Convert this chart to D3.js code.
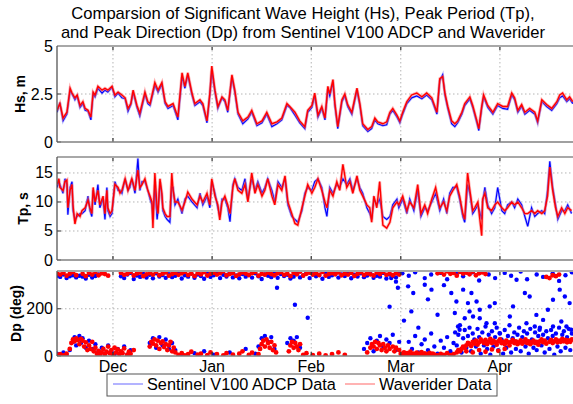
<!DOCTYPE html>
<html><head><meta charset="utf-8">
<script src="https://cdn.jsdelivr.net/npm/d3@7"></script>
<style>body{margin:0;background:#fff;overflow:hidden} text{font-family:"Liberation Sans",Arial,sans-serif;fill:#000}</style>
</head><body><svg id="c" width="573" height="404"></svg>
<script>
// ---------------- DATA ----------------
const titleLines = ["Comparsion of Significant Wave Height (Hs), Peak Period (Tp),",
                    "and Peak Direction (Dp) from Sentinel V100 ADCP and Waverider"];
const seriesNames = ["Sentinel V100 ADCP Data", "Waverider Data"];
const monthLabels = ["Dec","Jan","Feb","Mar","Apr"];
const monthStarts = ["2010-12-01","2011-01-01","2011-02-01","2011-03-01","2011-04-01"];
const hsTicks = [0, 2.5, 5];
const tpTicks = [0, 5, 10, 15];
const dpTicks = [0, 200];

// days since 2010-11-13 12:00
const hsDay = [0,0.9,1.9,3.1,4.1,4.7,5.6,6.3,7.2,8.1,8.8,9.7,10.6,11.3,11.9,12.8,14.1,15.0,15.9,17.2,18.1,19.1,20.3,21.3,22.2,23.1,23.8,25.0,25.9,27.5,28.4,29.1,30.6,31.6,32.8,33.8,34.7,36.3,37.8,39.1,40.0,40.9,42.2,43.1,44.7,45.6,46.9,47.8,48.4,49.4,50.3,51.6,52.5,53.4,54.7,55.6,56.6,58.1,59.7,60.9,62.5,64.1,65.6,67.2,68.8,70.3,71.9,72.8,74.4,75.9,77.5,78.4,79.7,80.6,81.6,82.8,83.8,84.7,85.3,86.3,86.9,87.8,89.1,90.0,90.9,92.2,93.8,94.7,95.6,97.2,98.4,99.4,100.3,101.9,103.1,104.1,105.0,106.3,107.2,108.1,109.4,110.9,112.5,114.1,115.6,117.2,118.8,119.7,120.6,121.3,122.2,123.4,124.4,125.3,126.6,127.5,129.1,130.0,131.3,131.9,132.8,133.4,134.7,136.3,137.8,139.4,140.9,142.2,143.1,144.1,145.3,146.3,147.8,149.4,150.3,151.6,153.1,154.7,156.3,157.2,158.1,159.4,160.3,161.3];
const hsWaverider = [1.66,2.0,1.25,1.55,2.8,2.55,2.3,2.45,1.9,2.1,1.75,1.65,1.3,2.6,2.45,2.9,2.7,2.8,2.7,2.9,2.45,2.6,2.45,2.3,1.75,2.0,2.7,1.9,1.5,2.6,2.1,2.0,3.1,2.7,3.1,2.1,1.85,2.0,1.3,3.6,2.9,3.6,2.55,2.0,2.2,2.0,1.1,2.55,3.95,2.7,1.85,2.35,2.2,1.65,3.5,2.7,1.55,1.1,1.3,1.65,0.95,1.1,1.55,0.95,1.05,1.25,2.0,1.85,1.55,1.1,0.8,1.65,1.9,2.55,1.4,1.85,1.25,2.9,2.5,3.25,2.0,0.8,2.2,2.5,1.95,1.55,2.8,2.0,0.95,0.65,0.8,1.25,1.05,0.95,1.05,1.55,1.75,1.4,1.1,1.55,2.1,2.45,2.55,2.35,2.55,2.3,1.55,3.3,3.4,2.55,1.85,1.1,0.95,1.1,1.55,2.0,2.35,1.9,1.1,0.7,1.85,2.45,1.9,1.55,2.0,1.85,1.85,2.55,2.3,1.65,1.95,1.55,1.75,1.55,1.1,2.2,1.95,1.75,2.1,2.45,2.55,2.2,2.35,2.1];
const hsAdcp = [1.55,2.05,1.1,1.45,2.7,2.5,2.2,2.4,1.8,2.0,1.65,1.6,1.15,2.5,2.35,2.8,2.55,2.7,2.6,2.85,2.35,2.55,2.3,2.25,1.6,1.95,2.6,1.8,1.35,2.5,2.0,1.9,2.95,2.6,3.0,2.0,1.75,1.9,1.15,3.4,2.8,3.5,2.45,1.9,2.1,1.9,1.0,2.45,3.7,2.6,1.75,2.3,2.1,1.55,3.35,2.6,1.45,0.95,1.2,1.55,0.85,1.0,1.45,0.8,0.95,1.15,1.9,1.8,1.4,1.0,0.7,1.55,1.8,2.4,1.3,1.75,1.15,2.75,2.4,3.1,1.9,0.7,2.1,2.4,1.85,1.45,2.7,1.9,0.85,0.55,0.7,1.15,0.95,0.85,0.9,1.45,1.65,1.3,1.0,1.45,2.0,2.3,2.4,2.25,2.45,2.2,1.45,3.2,3.5,2.45,1.75,0.95,0.8,1.0,1.45,1.9,2.25,1.8,1.0,0.6,1.75,2.35,1.8,1.45,1.9,1.75,1.7,2.45,2.2,1.55,1.85,1.45,1.65,1.45,1.0,2.1,1.85,1.65,2.0,2.3,2.4,2.1,2.25,2.0];

const tpDay = [0,0.6,0.9,1.9,2.5,3.1,3.4,4.1,4.7,5.0,5.6,6.3,7.2,7.8,8.8,9.7,10.3,10.9,11.3,11.9,12.8,13.4,14.4,15.0,15.6,15.9,16.6,17.2,18.1,19.1,19.7,20.3,21.3,22.2,22.8,23.4,24.4,25.3,25.9,26.6,27.5,28.4,29.1,29.7,30.0,30.6,31.3,31.6,32.2,32.8,33.1,33.8,34.4,35.3,35.9,36.3,36.9,37.8,39.1,40.0,40.9,42.2,43.8,44.7,45.6,46.9,47.8,48.4,49.4,50.3,50.9,51.6,52.5,53.4,54.1,55.0,55.6,56.6,57.8,58.8,59.7,60.9,61.9,62.8,64.1,65.0,65.9,67.2,68.1,69.1,70.3,71.3,72.2,73.4,74.4,75.3,76.6,77.5,78.4,79.7,80.6,81.6,82.8,83.8,84.4,85.3,86.3,87.5,88.4,89.4,90.6,91.6,92.5,93.8,94.7,95.6,96.9,97.8,98.4,99.1,100.0,100.9,101.9,103.1,104.1,105.0,106.3,106.9,108.1,109.4,110.3,111.6,112.8,113.8,115.0,115.9,117.2,118.4,119.7,120.9,121.9,122.8,123.8,125.0,125.9,126.9,127.5,128.4,129.1,130.0,130.6,131.6,132.8,133.1,133.8,134.7,135.9,136.9,137.8,139.1,140.0,140.9,142.2,143.1,144.1,145.3,146.3,147.2,148.4,149.4,150.3,151.6,152.5,153.4,154.1,155.0,155.9,156.6,157.8,158.8,159.7,160.9];
const tpWaverider = [13,14,12.5,12,13.5,13.8,9,12,13,9.5,6.2,8,7.5,8.5,9,10.3,9,8,12.5,10,12,9.5,11,8,12,9,8,8.5,13,12.5,11.5,12,14,12,13,14,12,15.5,12.5,13,14,12,11,10,5.5,15,9,8,14,11.5,9,8,7.5,7.5,15,12,10,10,8.6,10,11.7,10.5,9.5,11,10,11.5,9.5,14,11,9.5,6.9,10,11,9.5,8,12.5,14,12,11.5,13,10,15,11.5,13,11,12,14,11,9.5,13,12,14.5,10,8,6.3,6,9,11,13,11.5,12.5,14,12,10,9,12,11,13.5,12,16.5,12.5,13.5,11.5,14.5,12,11,9.5,9,6.5,11,9,13.5,6,5.5,6.5,9,10,9.5,11,8.5,10,9,13,8,9.5,8,10.5,12.5,9,10,8.5,11,12,13,11,8,7,15,12,8.5,9,10,4.2,10.5,11.5,9,8.5,9.5,10,9,8.5,9,10,9.5,10,9,8,8,8.5,8,8.5,8,8.5,11,16,12,9,7.5,9,8,9,8.5];
const tpAdcp = [12.5,13.5,13,11.5,14,13,7.8,12.5,13.5,8.5,7,7.5,8,8,8.5,11,8.5,7.5,12,9.5,13,9,10.5,7,12.5,8.5,7.5,8,13.5,12,12,11.5,14,12,12.5,14,11.5,17.5,12,13.5,13.5,12,10.5,9.5,7,13,7,8.5,13.5,11,8.5,7.5,7,6.5,12.5,12.5,9.5,10.5,8,10.5,11,10,9,11.5,9.5,11,9,13.5,11.5,9,7.5,10.5,10.5,9,6.6,13,14,12.5,12,14,10.5,14,12,13.5,11.5,12.5,14,12,10,13.5,12.5,14,9.5,7.5,7,6.5,8.5,11.5,12.5,12,13.5,14,12.5,9,7.5,12.5,11.5,13,12.5,14,13,14,12,14,12.5,11.5,9,8,7,10.5,9.5,10.5,7.5,7,7.5,9.5,10.5,9,10.5,8,10.5,8.5,12,7.5,9,8.5,10,11.5,8.5,10.5,8,11.5,12.5,12.5,10.5,7.5,6.5,13,11.5,8,8.5,9.5,7,10,12.5,9.5,8,9,12.5,8.5,8,9.5,10,9,10.5,9.5,7.5,5.8,9,7.5,8,8.5,8,12,17,12.5,9.5,7,8.5,8.5,9.5,8];

// Peak direction scatter (day, deg)
const dpWaveriderDay = [0,1,2,3,4,5,6, 8,9,10,11,12,13,14,15,16,
 20,21,22,23,24,25,26,27,28,29,30,31,32,33,34,35,36,37,38,39,40,41,42,43,44,45,46,47,48,49,50,51,52,53,54,55,56,57,58,59,60,61,62,63,64,65,66,67,68,69,70,71,72,73,74,75,76,77,78,79,80,81,82,83,84,85,86,87,88,89,90,91,92,93,94,95,96,97,98,99,100,101,102,103,104,105,106,107,
 119,120,121,122,123,124,125,126,127,128,129,130,131,132,133,134, 153,154,155,156,157,
 0,1,2,3, 4,4.5,5,5.5,6,6.5,7,7.5,8,8.5,9,9.5,10,10.5,11,11.5,12,
 12.5,13,13.5,14,14.5,15,15.5,16,16.5,17,17.5,18,18.5,19,19.5,20,20.5,21,22,22.5,23,24,
 29,29.5,30,30.5,31,31.5,32,32.5,33,33.5,34,34.5,35,35.5,36,36.5,37,
 38,39,40,41,42,44,45,47,48,50,52,53,55,57,58,60,61,63,
 63.5,64,64.5,65,65.5,66,66.5,67,67.5,68,68.5, 72.5,73,73.5,74,74.5,75,75.5,76,
 77,78,80,82,84,86,88,90,
 97,98,98.5,99,99.5,100,100.5,101,101.5,102,102.5,103,103.5,104,105,105.5,106,107,
 107.5,108,108.5,109,109.5,110,110.5,111,111.5,112,112.5,113,113.5,114,114.5,115,115.5,116,116.5,117,117.5,118,119,120,121,122,123,
 124,125,125.5,126,
 126.5,127,127.5,128,128.5,129,129.5,130,130.5,131,131.5,132,132.5,133,133.5,134,134.5,135,135.5,136,136.5,137,137.5,138,138.5,139,139.5,140,140.5,141,141.5,142,142.5,143,143.5,144,144.5,145,145.5,146,146.5,147,147.5,148,148.5,149,149.5,150,150.5,151,151.5,152,152.5,153,154,154.5,155,155.5,156,156.5,157,157.5,158,158.5,159,159.5,160,160.5,161,
 128,130,132,134,136,138,140];
const dpWaverider = [350,345,352,340,348,355,342, 348,338,352,345,356,342,350,347,340,
 352,344,348,356,341,349,353,338,346,351,345,357,342,348,354,340,347,352,344,350,
 356,343,349,338,351,346,355,341,348,353,345,350,358,342,347,352,339,346,354,349,
 343,351,356,340,348,345,353,347,342,350,355,344,349,338,352,346,357,341,348,353,
 345,350,343,356,340,347,351,346,354,342,349,345,352,339,348,355,343,350,346,341,
 353,347,356,344,349,342,351,345,
 350,355,345,358,348,352,340,356,349,353,346,357,342,350,354,347, 335,330,342,338,345,
 5,8,3,10, 30,55,70,62,75,68,50,72,65,40,58,25,45,30,60,20,35,
 10,22,5,15,30,8,18,40,12,25,5,35,15,28,8,20,12,32,6,18,10,25,
 40,60,52,70,45,65,30,55,62,38,50,25,45,60,20,35,15,
 5,12,3,8,18,6,10,4,15,8,3,12,6,10,20,5,14,8,
 30,50,65,40,70,55,35,60,25,45,15, 20,45,60,35,55,40,25,50,
 5,12,4,10,3,8,15,5,
 15,35,50,40,60,30,55,45,25,50,35,20,45,30,40,20,35,25,
 10,5,15,3,12,8,18,4,10,6,14,3,9,16,5,11,3,8,13,4,10,6,3,9,5,12,4,
 8,15,25,20,
 30,40,35,45,55,50,42,60,52,65,48,58,70,62,55,68,50,60,72,55,65,58,48,62,70,55,60,50,65,58,45,60,68,55,62,50,58,66,52,60,70,55,62,50,58,65,55,60,48,62,70,58,65,52,60,68,55,62,70,58,65,60,72,62,68,58,66,60,70,
 20,15,25,18,28,22,30];

const dpAdcpDay = [0,1,2,3,4,5,6,7,8,9,10,11,12,13,
 20,21,22,23,24,25,26,27,28,29,30,31,32,33,34,35,36,37,38,39,40,41,42,43,44,45,46,47,48,49,50,51,52,53,54,55,56,57,58,59,60,61,62,63,64,65,66,67,68,69,70,71,72,73,74,75,76,77,78,79,80,81,82,83,84,85,86,87,88,89,90,91,92,93,94,95,96,97,98,99,100,101,102,103,104,105,106,107,
 108,110,112,115,117,120,122,125,127,130,132,135,137,140,142,145,147,150,152,155,157,159,161,
 68.8,74.4,78.4,104,106.6,
 109.8,111.4,115,117.1,123.3,124.9,127,128.5,129.6,131.2,132.2,110.8,125.4,129,130.1,132.2,134.3,136.9,138.4,141.6,142.6,143.7,146.3,147.8,149.9,152,153.5,155.1,157.2,158.8,160.3,146.8,149.4,150.9,155.1,157.7,159.3,160.8,135.3,136.9,127.5,125.9,124.4,108.5,113,116,119,121,106,104.5,
 110,111,112,113,114,115,116,117,118,119,120,121,122,123,124,124.5,125,
 125.5,126,126.5,127,127.5,128,128.5,129,129.5,130,130.5,131,131.5,132,132.5,133,133.5,134,134.5,135,135.5,136,136.5,137,137.5,138,138.5,139,139.5,140,140.5,141,141.5,142,142.5,143,143.5,144,144.5,145,145.5,146,146.5,147,147.5,148,148.5,149,149.5,150,150.5,151,151.5,152,152.5,153,153.5,154,154.5,155,155.5,156,156.5,157,157.5,158,158.5,159,159.5,160,160.5,161,
 0,1,2,3,4,5,5.5,6,6.5,7,7.5,8,9,10,11,12,13,14,15,16,17,18,19,20,21,22,23,
 29,30,31,32,33,34,35,36,37, 39,43,46,49,54,59,62, 63,64,65,66,67,68, 72,73,74,75,76,
 96,97,98,99,100,101,102,103,104,105,106,107];
const dpAdcp = [340,335,345,330,338,342,333,340,336,328,344,332,339,345,
 338,330,345,352,326,341,335,348,332,344,329,350,337,343,331,346,334,340,354,328,
 342,336,349,331,345,339,327,351,335,342,348,330,344,337,353,333,341,329,347,336,
 343,332,350,338,326,345,340,334,352,331,347,339,344,328,336,349,333,341,355,330,
 346,338,343,327,351,335,342,348,332,345,339,353,329,344,337,350,334,341,347,331,
 340,336,352,328,345,339,333,348,
 350,340,355,330,345,352,325,348,338,355,320,345,330,352,340,358,325,345,335,350,318,342,355,
 289,217,162,209,289,
 295,267,302,281,267,231,281,224,267,231,196,189,125,189,167,160,139,139,97,167,210,323,267,252,174,153,196,238,281,252,224,139,125,111,125,146,125,111,210,224,160,111,182,150,120,240,175,300,315,330,
 60,30,85,15,50,70,25,95,40,10,65,35,80,20,55,100,45,
 90,130,15,75,110,35,85,120,20,95,70,40,115,80,10,100,45,125,30,90,5,105,40,80,120,25,95,70,10,110,35,85,130,15,75,100,30,90,120,20,80,105,40,95,10,115,70,35,100,25,85,120,45,90,15,105,75,30,110,85,5,95,40,120,20,90,105,35,80,115,25,95,
 10,5,15,3,25,60,80,45,70,85,55,75,35,65,30,50,20,35,10,45,20,8,30,15,40,5,25,
 55,75,35,80,45,70,30,55,25, 8,12,20,5,15,30,10, 40,75,85,60,80,30, 55,75,65,80,35,
 30,55,75,20,65,85,40,70,55,90,25,60];

// ---------------- CHART ----------------
const svg = d3.select("#c");
const t0 = new Date(2010, 10, 13, 12).getTime();
const toDate = d => new Date(t0 + d * 864e5);
const x = d3.scaleTime()
  .domain([toDate(0), new Date(2011, 3, 24, 19)])
  .range([57, 576]);
const monthDates = monthStarts.map(s => { const p = s.split("-"); return new Date(+p[0], +p[1]-1, +p[2]); });

const BLUE = "#0000ff", RED = "#ff0000";
const panels = [
  {y: d3.scaleLinear().domain([0,5]).range([142,46]), ticks: hsTicks, label: "Hs, m", lx: 25, fmt: d => d===2.5?"2.5":String(d)},
  {y: d3.scaleLinear().domain([0,17.75]).range([260,157]), ticks: tpTicks, label: "Tp, s", lx: 28, fmt: String},
  {y: d3.scaleLinear().domain([0,360]).range([356,271]), ticks: dpTicks, label: "Dp (deg)", lx: 21, fmt: String}
];

panels.forEach((p, i) => {
  const [yb, yt] = p.y.range();
  const g = svg.append("g");
  const cid = "clip" + i;
  svg.append("clipPath").attr("id", cid).append("rect")
    .attr("x", 57).attr("y", yt).attr("width", 519).attr("height", yb - yt);
  g.selectAll(".hg").data(p.ticks.filter(v => v > p.y.domain()[0] && v < p.y.domain()[1])).join("line")
    .attr("x1", 57).attr("x2", 576).attr("y1", d => p.y(d)).attr("y2", d => p.y(d))
    .attr("stroke", "#b4b4b4").attr("stroke-width", 1).attr("stroke-dasharray", "1.5,2.5");
  g.selectAll(".vg").data(monthDates).join("line")
    .attr("x1", d => x(d)).attr("x2", d => x(d)).attr("y1", yt).attr("y2", yb)
    .attr("stroke", "#b4b4b4").attr("stroke-width", 1).attr("stroke-dasharray", "1.5,2.5");
  const data = g.append("g").attr("clip-path", `url(#${cid})`);
  if (i < 2) {
    const days = i === 0 ? hsDay : tpDay;
    const a = i === 0 ? hsAdcp : tpAdcp;
    const w = i === 0 ? hsWaverider : tpWaverider;
    const line = d3.line().x(d => x(toDate(d[0]))).y(d => p.y(d[1]));
    const aPts = days.map((d, k) => [d, a[k]]);
    const wPts = days.map((d, k) => [d, w[k]]);
    data.append("path").attr("d", line(aPts)).attr("fill", "none").attr("stroke", "#7070ff").attr("stroke-width", 2.6).attr("opacity", 0.45);
    data.append("path").attr("d", line(aPts)).attr("fill", "none").attr("stroke", BLUE).attr("stroke-width", 1.2);
    data.append("path").attr("d", line(wPts)).attr("fill", "none").attr("stroke", "#ff7070").attr("stroke-width", 3).attr("opacity", 0.5);
    data.append("path").attr("d", line(wPts)).attr("fill", "none").attr("stroke", RED).attr("stroke-width", 1.4);
  } else {
    data.selectAll(".da").data(dpAdcpDay.map((d, k) => [d, dpAdcp[k]])).join("circle")
      .attr("cx", d => x(toDate(d[0]))).attr("cy", d => p.y(d[1])).attr("r", 2.2).attr("fill", BLUE);
    data.selectAll(".dw").data(dpWaveriderDay.map((d, k) => [d, dpWaverider[k]])).join("circle")
      .attr("cx", d => x(toDate(d[0]))).attr("cy", d => p.y(d[1])).attr("r", 2.4).attr("fill", RED);
  }
  g.selectAll(".mt").data(monthDates).join("path")
    .attr("d", d => `M${x(d)},${yt}v4M${x(d)},${yb}v-4`).attr("stroke", "#333").attr("stroke-width", 1.2);
  g.selectAll(".yt").data(p.ticks).join("line")
    .attr("x1", 57).attr("x2", 61).attr("y1", d => p.y(d)).attr("y2", d => p.y(d)).attr("stroke", "#333");
  g.append("line").attr("x1", 57).attr("x2", 576).attr("y1", yt).attr("y2", yt).attr("stroke", "#a8a8a8").attr("stroke-width", 2.2);
  g.append("line").attr("x1", 57).attr("x2", 576).attr("y1", yb).attr("y2", yb).attr("stroke", "#808080").attr("stroke-width", 1.5);
  g.append("line").attr("x1", 57).attr("x2", 57).attr("y1", yt).attr("y2", yb).attr("stroke", "#555").attr("stroke-width", 1.3);
  g.selectAll(".tl").data(p.ticks).join("text")
    .attr("x", 53).attr("y", d => p.y(d) + 5.5).attr("text-anchor", "end")
    .attr("font-size", 16).text(p.fmt);
  svg.append("text").attr("transform", `translate(${p.lx},${(yt + yb) / 2}) rotate(-90)`)
    .attr("text-anchor", "middle").attr("font-size", 14).attr("font-weight", "bold").text(p.label);
});

svg.selectAll(".ml").data(monthDates).join("text")
  .attr("x", d => x(d)).attr("y", 372).attr("text-anchor", "middle").attr("font-size", 16)
  .text((d, k) => monthLabels[k]);

svg.selectAll(".ti").data(titleLines).join("text")
  .attr("x", 303).attr("y", (d, k) => 19 + k * 18.5).attr("text-anchor", "middle").attr("font-size", 16.6)
  .text(d => d);

const lg = svg.append("g");
lg.append("rect").attr("x", 107).attr("y", 374).attr("width", 390).attr("height", 22)
  .attr("fill", "#fff").attr("stroke", "#555").attr("stroke-width", 1);
lg.append("line").attr("x1", 113).attr("x2", 143).attr("y1", 384).attr("y2", 384).attr("stroke", "#9a9aff").attr("stroke-width", 1.5);
lg.append("text").attr("x", 147).attr("y", 390).attr("font-size", 16.3).text(seriesNames[0]);
lg.append("line").attr("x1", 345).attr("x2", 375).attr("y1", 384).attr("y2", 384).attr("stroke", "#ff9a9a").attr("stroke-width", 1.5);
lg.append("text").attr("x", 379).attr("y", 390).attr("font-size", 16.3).text(seriesNames[1]);
</script></body></html>
